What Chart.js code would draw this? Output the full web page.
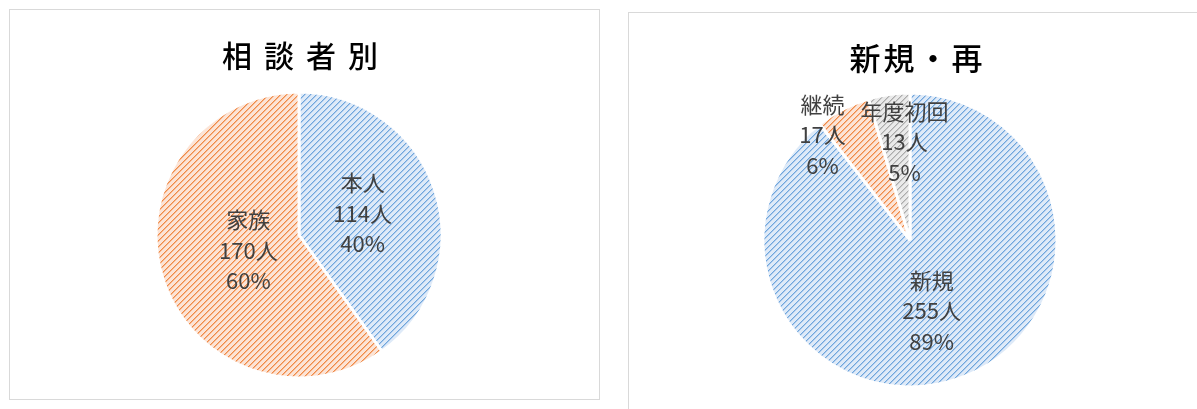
<!DOCTYPE html>
<html>
<head>
<meta charset="utf-8">
<script src="https://cdn.jsdelivr.net/npm/chart.js@4"></script>
<style>
  body { margin: 0; background: #fff; width: 1197px; height: 409px; overflow: hidden; position: relative; }
  .panel { position: absolute; border: 1px solid #d9d9d9; box-sizing: border-box; }
  .title { position: absolute; font-family: "Noto Sans CJK JP", sans-serif; font-weight: 500; color: #000; text-align: center; white-space: nowrap; }
  canvas { position: absolute; }
</style>
</head>
<body>
<div class="panel" style="left:9px; top:9px; width:591px; height:391px;"></div>
<div class="panel" style="left:628px; top:12px; width:600px; height:420px;"></div>
<canvas id="leftChart" width="588" height="388" style="left:10px; top:10px;"></canvas>
<canvas id="rightChart" width="568" height="396" style="left:629px; top:13px;"></canvas>
<div class="title" style="left:200px; width:200px; top:33px; font-size:30px; line-height:42px; letter-spacing:12px; text-indent:12px;">相談者別</div>
<div class="title" style="left:816px; width:200px; top:36px; font-size:31px; line-height:42px; letter-spacing:3px; text-indent:3px;">新規・再</div>
<script>
// 相談者別
const leftLabels = ['本人', '家族'];
const leftValues = [114, 170];
// 新規・再
const rightLabels = ['新規', '継続', '年度初回'];
const rightValues = [255, 17, 13];

// where the data labels sit (fraction of radius, angle shift in degrees)
const leftLabelRadius = [0.47, 0.37];
const leftLabelShift = [-1, 1];
const rightLabelRadius = [0.505, 0.93, 0.67];
const rightLabelShift = [2, -12.6, 5];

// hatched fill like the excel pattern (upward diagonal)
function makePattern(bg, fg, mid) {
  const size = 6;
  const c = document.createElement('canvas');
  c.width = size;
  c.height = size;
  const g = c.getContext('2d');
  g.fillStyle = bg;
  g.fillRect(0, 0, size, size);
  for (let y = 0; y < size; y++) {
    for (let x = 0; x < size; x++) {
      const d = (x + y) % size;
      if (d === 0) { g.fillStyle = fg; g.fillRect(x, y, 1, 1); }
      else if (d === 1) { g.fillStyle = mid; g.fillRect(x, y, 1, 1); }
    }
  }
  return g.createPattern(c, 'repeat');
}

const blueFill = makePattern('#deeaf8', '#6ea6dc', '#acc9ec');
const orangeFill = makePattern('#fce4d6', '#f08a46', '#f6b58c');
const grayFill = makePattern('#eaeaea', '#ababab', '#cbcbcb');

const labelPlugin = {
  id: 'pieLabels',
  afterDatasetsDraw(chart, args, opts) {
    const ctx = chart.ctx;
    const meta = chart.getDatasetMeta(0);
    const values = chart.data.datasets[0].data;
    const total = values.reduce((a, b) => a + b, 0);
    ctx.save();
    ctx.font = '22px "Noto Sans CJK JP", sans-serif';
    ctx.fillStyle = '#404040';
    ctx.textAlign = 'center';
    ctx.textBaseline = 'middle';
    meta.data.forEach((arc, i) => {
      const p = arc.getProps(['x', 'y', 'startAngle', 'endAngle', 'outerRadius'], true);
      const mid = (p.startAngle + p.endAngle) / 2 + opts.shift[i] * Math.PI / 180;
      const r = p.outerRadius * opts.radius[i];
      const cx = p.x + Math.cos(mid) * r;
      const cy = p.y + Math.sin(mid) * r;
      const lines = [
        chart.data.labels[i],
        values[i] + '人',
        Math.round(values[i] / total * 100) + '%'
      ];
      lines.forEach((t, k) => ctx.fillText(t, cx, cy + (k - 1) * 30.5));
    });
    ctx.restore();
  }
};

const leftChart = new Chart(document.getElementById('leftChart'), {
  type: 'pie',
  data: {
    labels: leftLabels,
    datasets: [{
      data: leftValues,
      backgroundColor: [blueFill, orangeFill],
      borderColor: '#ffffff',
      borderWidth: 3,
      radius: 143
    }]
  },
  options: {
    responsive: false,
    animation: false,
    layout: { padding: { left: 0, right: 10, top: 62, bottom: 0 } },
    plugins: {
      legend: { display: false },
      tooltip: { enabled: false },
      pieLabels: { radius: leftLabelRadius, shift: leftLabelShift }
    }
  },
  plugins: [labelPlugin]
});

const rightChart = new Chart(document.getElementById('rightChart'), {
  type: 'pie',
  data: {
    labels: rightLabels,
    datasets: [{
      data: rightValues,
      backgroundColor: [blueFill, orangeFill, grayFill],
      borderColor: '#ffffff',
      borderWidth: 3,
      radius: 147
    }]
  },
  options: {
    responsive: false,
    animation: false,
    layout: { padding: { left: 0, right: 6, top: 58, bottom: 0 } },
    plugins: {
      legend: { display: false },
      tooltip: { enabled: false },
      pieLabels: { radius: rightLabelRadius, shift: rightLabelShift }
    }
  },
  plugins: [labelPlugin]
});
</script>
</body>
</html>
